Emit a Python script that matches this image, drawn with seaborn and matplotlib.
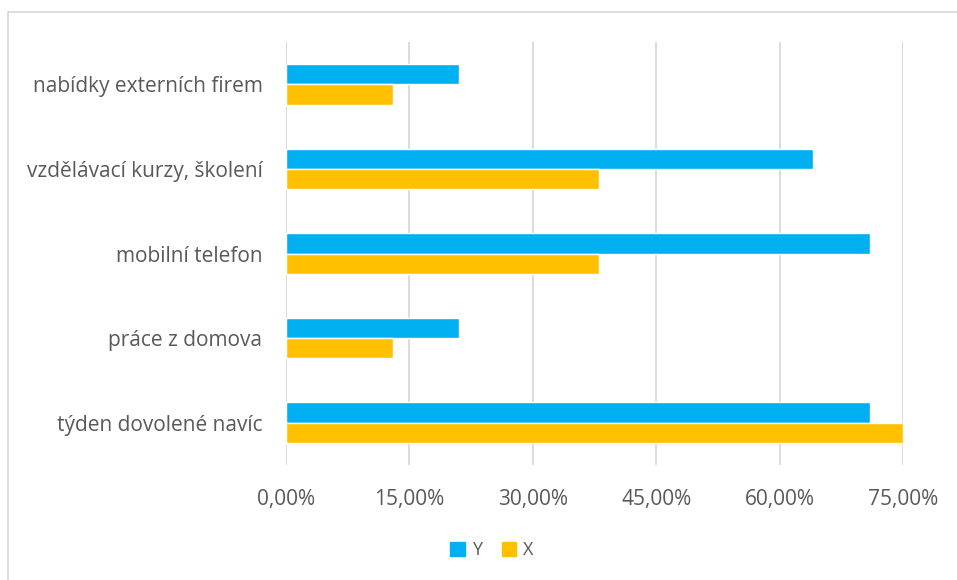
import matplotlib
matplotlib.use("Agg")
import matplotlib.pyplot as plt
import matplotlib.lines as mlines
import matplotlib.ticker as mticker
import seaborn as sns
import pandas as pd

categories = ["nabídky externích firem", "vzdělávací kurzy, školení", "mobilní telefon",
              "práce z domova", "týden dovolené navíc"]
series_y = [21, 64, 71, 21, 71]
series_x = [13, 38, 38, 13, 75]
series_names = ["Y", "X"]
colors = ["#00B0F0", "#FFC000"]
xticks = [0, 15, 30, 45, 60, 75]

df = pd.DataFrame({
    "kategorie": categories * 2,
    "hodnota": series_y + series_x,
    "serie": ["Y"] * len(categories) + ["X"] * len(categories),
})

sns.set_theme(style="white")
plt.rcParams["font.family"] = ["Open Sans", "DejaVu Sans"]
text_color = "#595959"

fig = plt.figure(figsize=(9.57, 5.80), dpi=100)
ax = fig.add_axes([286 / 957, 1 - 465 / 580, (903 - 286) / 957, (465 - 42) / 580])

sns.barplot(data=df, y="kategorie", x="hodnota", hue="serie", order=categories,
            hue_order=series_names, palette=colors, orient="h", width=0.48,
            saturation=1, ax=ax, legend=False)

ax.set_xlim(0, 75)
ax.set_xticks(xticks)
ax.xaxis.set_major_formatter(mticker.FuncFormatter(lambda v, p: f"{v:.2f}".replace(".", ",") + "%"))
ax.grid(axis="x", color="#D9D9D9", linewidth=1.3)
ax.set_axisbelow(True)
for s in ax.spines.values():
    s.set_visible(False)
ax.set_xlabel("")
ax.set_ylabel("")
ax.tick_params(axis="x", length=0, pad=17, labelsize=15, labelcolor=text_color)
ax.tick_params(axis="y", length=0, pad=17, labelsize=15, labelcolor=text_color)

handles = [plt.Rectangle((0, 0), 1, 1, color=c) for c in colors]
fig.legend(handles, series_names, loc="center", bbox_to_anchor=(492 / 957, 1 - 550 / 580),
           ncol=2, frameon=False, fontsize=13, labelcolor=text_color,
           handlelength=0.8, handleheight=0.8, handletextpad=0.4, columnspacing=1.1)

# chart border (top and left edges)
fig.add_artist(mlines.Line2D([8 / 957, 1], [1 - 12 / 580, 1 - 12 / 580], color="#D9D9D9", lw=1.3))
fig.add_artist(mlines.Line2D([8 / 957, 8 / 957], [0, 1 - 12 / 580], color="#D9D9D9", lw=1.3))

fig.savefig("out.png", dpi=100, facecolor="white")
